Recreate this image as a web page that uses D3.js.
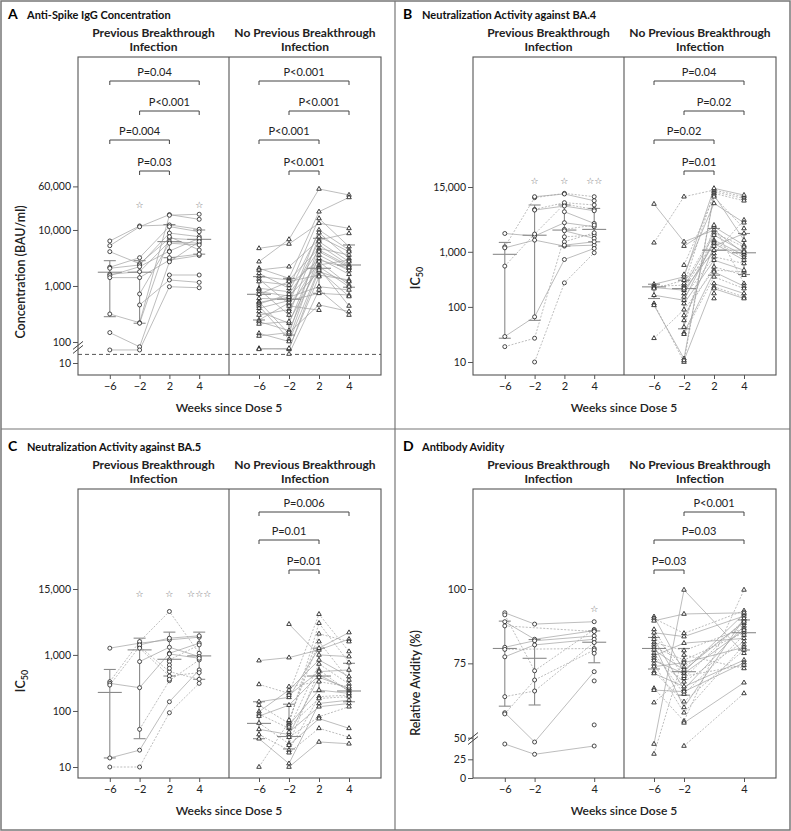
<!DOCTYPE html>
<html><head><meta charset="utf-8">
<script src="https://cdn.jsdelivr.net/npm/d3@7"></script>
<style>body{margin:0;background:#fff} svg{display:block;font-family:Lato,"Open Sans",sans-serif}</style>
</head><body><svg id="c" width="791" height="831"></svg>
<script>
// ---------------- DATA ----------------
const weeks = [-6, -2, 2, 4];
const groupNames = ["Previous Breakthrough", "No Previous Breakthrough"];
const xTickLabels = ["\u22126", "\u22122", "2", "4"];

// Panel A: anti-spike IgG (BAU/ml); rows = participants, columns = weeks -6,-2,2,4
const A_prev = [
 [6360,11800,12300,10300],[5240,11400,18800,15500],[4100,2500,7100,6600],[2160,3200,11500,9300],
 [2070,2370,8800,7600],[1620,1800,6200,5800],[1530,2210,4200,7100],[1410,1410,2900,3500],
 [316,221,18300,19100],[147,82,2700,6200],[72,72,970,930],[null,720,5800,5400],
 [null,458,1280,1160],[null,216,7600,4400],[null,null,3200,3700],[null,null,1570,1570],[null,null,4100,null]
];
const A_none = [
 [4700,5630,13200,10700],[2720,6800,54000,42200],[2070,1370,21200,38200],[1930,2210,6630,8700],
 [1680,910,16100,5040],[1470,1280,4700,3570],[1330,477,10000,4400],[1200,1040,2910,2070],
 [910,790,8950,3120],[870,303,7600,4100],[790,660,2370,2910],[710,1200,1570,1280],
 [600,580,6200,2720],[525,139,5400,2370],[510,630,970,850],[477,710,4400,2280],
 [440,112,3570,1880],[400,550,740,690],[350,216,4100,2150],[303,380,3120,1620],
 [247,500,1800,1200],[231,160,2720,1040],[210,231,2210,970],[143,102,2070,440],
 [128,147,460,350],[77,74,1930,650],[74,77,1470,null],[null,61,850,303],
 [null,440,370,null],[null,350,null,null]
];
const A_prev_med = [1760,1760,6200,6800], A_prev_q1 = [283,216,3200,3700], A_prev_q3 = [2830,2830,12500,10000];
const A_none_med = [710,580,2070,2370],  A_none_q1 = [247,133,740,950],   A_none_q3 = [1470,1370,7100,5400];
const A_stars = [{week:-2, n:1}, {week:4, n:1}];
const A_brackets = [
 {side:0, from:-6, to:4, label:"P=0.04", level:0}, {side:0, from:-2, to:4, label:"P<0.001", level:1},
 {side:0, from:-6, to:2, label:"P=0.004", level:2}, {side:0, from:-2, to:2, label:"P=0.03", level:3},
 {side:1, from:-6, to:4, label:"P<0.001", level:0}, {side:1, from:-2, to:4, label:"P<0.001", level:1},
 {side:1, from:-6, to:2, label:"P<0.001", level:2}, {side:1, from:-2, to:2, label:"P<0.001", level:3}
];
const A_yTicks = [10, 100, 1000, 10000, 60000];
const A_lod = 60;

// Panel B: neutralization BA.4 (IC50)
const B_prev = [
 [2150,1930,3370,2850],[1230,9600,11500,10000],[1180,1630,1270,1320],[550,2100,7350,5880],
 [29,66,725,1150],[19,27,1870,2010],[null,10000,11200,8450],[null,5880,7800,7070],
 [null,5720,6770,5560],[null,10,273,960],[null,null,5340,3270],[null,null,2550,3050],
 [null,null,2410,1750],[null,null,1520,2210],[null,null,1320,1520]
];
const B_none = [
 [7370,1520,2480,930],[1460,10000,13200,10000],[258,351,14200,10700],[237,248,12300,9300],
 [225,201,1070,1070],[215,305,930,3770],[163,132,1630,870],[115,10,11500,8450],
 [107,11.5,10700,1630],[27,89,465,433],[null,1270,2850,1320],[null,573,10000,2650],
 [null,387,7570,3370],[null,265,2210,1230],[null,231,2010,1000],[null,215,1520,790],
 [null,175,1420,705],[null,152,810,614],[null,115,705,465],[null,70,533,377],
 [null,57,1270,2150],[null,43,3050,265],[null,34,433,237],[null,32,351,215],
 [null,10.7,265,175],[null,null,231,152],[null,null,215,142],[null,null,175,null],[null,null,142,null]
];
const B_prev_med = [900,2000,2480,2550], B_prev_q1 = [27,57,1270,1520], B_prev_q3 = [1480,7070,7070,6130];
const B_none_med = [231,215,1070,960],   B_none_q1 = [142,40,377,387],   B_none_q3 = [258,305,2650,2150];
const B_stars = [{week:-2, n:1}, {week:2, n:1}, {week:4, n:2}];
const B_brackets = [
 {side:1, from:-6, to:4, label:"P=0.04", level:0}, {side:1, from:-2, to:4, label:"P=0.02", level:1},
 {side:1, from:-6, to:2, label:"P=0.02", level:2}, {side:1, from:-2, to:2, label:"P=0.01", level:3}
];
const B_yTicks = [10, 100, 1000, 15000];

// Panel C: neutralization BA.5 (IC50)
const C_prev = [
 [1320,1620,1860,2070],[333,1730,5960,1070],[311,260,1070,1620],[290,1410,503,367],
 [14.5,20,146,539],[10,10,93,311],[null,1510,1990,2190],[null,1320,420,483],
 [null,760,1370,933],[null,47,347,814],[null,null,1040,871],[null,null,814,1510],
 [null,null,760,null],[null,null,660,null],[null,null,577,null],[null,null,367,null]
];
const C_none = [
 [791,896,1230,1910],[298,206,5340,1150],[146,175,1320,2510],[127,60,3690,729],
 [97,236,814,410],[88,49,690,303],[81,127,438,236],[61,26,539,220],
 [47,38,398,253],[38,20,180,192],[32,11.5,136,156],[10,64,2380,1730],
 [null,3540,1000,933],[null,271,333,271],[null,192,503,539],[null,68.5,1730,357],
 [null,56,236,206],[null,52,167,180],[null,42,119,136],[null,34,79,119],
 [null,24.5,73,49],[null,18,49,34],[null,10,28,26]
];
const C_prev_med = [214,1230,836,960], C_prev_q1 = [14.5,32,420,367], C_prev_q3 = [550,1990,2550,2550];
const C_none_med = [60,35,420,227],    C_none_q1 = [32,21,220,146],   C_none_q3 = [146,132,1320,709];
const C_stars = [{week:-2, n:1}, {week:2, n:1}, {week:4, n:3}];
const C_brackets = [
 {side:1, from:-6, to:4, label:"P=0.006", level:0}, {side:1, from:-6, to:2, label:"P=0.01", level:1},
 {side:1, from:-2, to:2, label:"P=0.01", level:2}
];
const C_yTicks = [10, 100, 1000, 15000];

// Panel D: relative avidity (%), no week-2 sample
const D_prev = [
 [92.0,88.2,null,89],[91.3,72.5,null,86.4],[89.0,83.1,null,86],[87.6,null,null,85.7],
 [80.4,82.6,null,84.2],[79.7,null,null,80],[77.2,81.2,null,83.1],[63.8,65.7,null,82],
 [58.4,45,null,72.2],[58.0,69.4,null,79.5],[42.7,30.8,null,40.4],[null,null,null,78.4],
 [null,null,null,69.1],[null,null,null,54.3]
];
const D_none = [
 [90.7,72.2,null,91.6],[90.1,85.1,null,92.7],[89.3,91.6,null,92],[86.4,70,null,89.6],
 [85.3,84,null,90.9],[84,73.7,null,88.5],[83.1,66.3,null,87.6],[82,79.3,null,86.8],
 [81.2,60.2,null,90.1],[80.4,76.1,null,85.3],[79.5,72.8,null,89],[78.4,64.7,null,84.5],
 [77.5,81.8,null,83.4],[76.7,68.8,null,82.3],[75.9,71.6,null,86.2],[74.8,58.4,null,81.2],
 [73.9,75.2,null,80.4],[72.2,62.1,null,79.5],[71.6,67.2,null,76.1],[66.6,55.6,null,99.7],
 [66,65.5,null,75.2],[61.8,70.7,null,74.4],[42.7,99.7,null,78.4],[31.2,77.8,null,73.3],
 [null,55,null,68.5],[null,40.4,null,64.9]
];
const D_prev_med = [80,76.7,null,82.1], D_prev_q1 = [60.6,61,null,75.2], D_prev_q3 = [89.2,83,null,85.9];
const D_none_med = [80,72.2,null,85.3], D_none_q1 = [73.1,64.3,null,79.5], D_none_q3 = [83.7,80,null,89.6];
const D_stars = [{week:4, n:1}];
const D_brackets = [
 {side:1, from:-2, to:4, label:"P<0.001", level:0}, {side:1, from:-6, to:4, label:"P=0.03", level:1},
 {side:1, from:-6, to:-2, label:"P=0.03", level:2}
];
const D_yTicks = [0, 25, 50, 75, 100];
const D_weeks = [-6, -2, 4];

// ---------------- DRAWING ----------------
const svg = d3.select("#c");
const ink = "#222", boxCol = "#555", lineCol = "#a0a0a0", sumCol = "#8a8a8a";

svg.append("rect").attr("x",1).attr("y",1).attr("width",789).attr("height",829)
  .attr("fill","none").attr("stroke","#777").attr("stroke-width",1.5);
svg.append("line").attr("x1",395).attr("x2",395).attr("y1",1).attr("y2",830).attr("stroke","#777").attr("stroke-width",1.2);
svg.append("line").attr("x1",1).attr("x2",790).attr("y1",429).attr("y2",429).attr("stroke","#777").attr("stroke-width",1.2);

function drawPanel(p) {
  const g = svg.append("g");
  const {x0, xm, x1, top, bottom} = p;
  g.append("text").attr("x", x0 - 70).attr("y", top - 38).attr("font-size", 14).attr("font-weight", 700)
    .attr("fill", "#000").text(p.letter);
  g.append("text").attr("x", x0 - 51).attr("y", top - 38).attr("font-size", 11).attr("font-weight", 700)
    .attr("fill", "#111").text(p.title);
  const xs = [
    d3.scalePoint().domain(weeks).range([x0 + 2, xm]).padding(1),
    d3.scalePoint().domain(weeks).range([xm, x1 - 2]).padding(1)
  ];
  groupNames.forEach((nm, i) => {
    const cx = i === 0 ? (x0 + xm) / 2 : (xm + x1) / 2;
    const t = g.append("text").attr("text-anchor", "middle").attr("font-size", 12).attr("font-weight", 700).attr("fill", ink);
    t.append("tspan").attr("x", cx).attr("y", top - 20).text(nm);
    t.append("tspan").attr("x", cx).attr("y", top - 6).text("Infection");
  });
  const y = p.y;
  g.append("rect").attr("x", x0).attr("y", top).attr("width", x1 - x0).attr("height", bottom - top)
    .attr("fill", "none").attr("stroke", boxCol).attr("stroke-width", 1.1);
  g.append("line").attr("x1", xm).attr("x2", xm).attr("y1", top).attr("y2", bottom).attr("stroke", boxCol).attr("stroke-width", 1.1);
  const ya = d3.axisLeft(y).tickValues(p.yTicks).tickSize(5).tickPadding(2).tickFormat(p.fmt);
  const yg = g.append("g").attr("transform", `translate(${x0},0)`).call(ya);
  yg.select(".domain").remove();
  yg.selectAll("line").attr("stroke", boxCol);
  yg.selectAll("text").attr("font-size", 10.5).attr("fill", ink).attr("font-family", "Lato, sans-serif");
  if (p.breakAt != null) {
    const by = y(p.breakAt);
    [-2, 2].forEach(d => {
      g.append("line").attr("x1", x0 - 5).attr("x2", x0 + 5).attr("y1", by + d + 4).attr("y2", by + d - 4)
        .attr("stroke", "#444").attr("stroke-width", 1);
    });
  }
  xs.forEach((xsc) => {
    const wk = p.weeks || weeks;
    const xa = d3.axisBottom(xsc).tickValues(wk).tickSize(4).tickPadding(3)
      .tickFormat(d => xTickLabels[weeks.indexOf(d)]);
    const xg = g.append("g").attr("transform", `translate(0,${bottom})`).call(xa);
    xg.select(".domain").remove();
    xg.selectAll("line").attr("stroke", boxCol);
    xg.selectAll("text").attr("font-size", 11).attr("fill", ink).attr("font-family", "Lato, sans-serif");
  });
  g.append("text").attr("x", xm).attr("y", bottom + 37).attr("text-anchor", "middle")
    .attr("font-size", 12).attr("font-weight", 600).attr("fill", ink).text("Weeks since Dose 5");
  const yl = g.append("text").attr("transform", `translate(${x0 - 53},${p.ylabelY}) rotate(-90)`)
    .attr("text-anchor", "middle").attr("font-size", 12.5).attr("font-weight", 600).attr("fill", ink);
  if (p.ylabel === "IC50") {
    yl.append("tspan").text("IC");
    yl.append("tspan").attr("font-size", 9).attr("dy", 3).text("50");
  } else yl.text(p.ylabel);
  if (p.lod != null) {
    g.append("line").attr("x1", x0).attr("x2", x1).attr("y1", y(p.lod)).attr("y2", y(p.lod))
      .attr("stroke", "#555").attr("stroke-width", 1).attr("stroke-dasharray", "4,3");
  }
  p.groups.forEach((grp, gi) => {
    const xsc = xs[gi];
    const gg = g.append("g");
    const line = d3.line().x(d => xsc(d[0])).y(d => y(d[1]));
    grp.rows.forEach((r, ri) => {
      const pts = weeks.map((w, k) => [w, r[k]]).filter(d => d[1] != null);
      gg.append("path").attr("d", line(pts)).attr("fill", "none").attr("stroke", lineCol)
        .attr("stroke-width", 0.7)
        .attr("stroke-dasharray", p.dashed && ri % 2 === 1 ? "2,1.5" : null);
    });
    weeks.forEach((w, k) => {
      if (grp.med[k] == null) return;
      const cx = xsc(w);
      gg.append("line").attr("x1", cx).attr("x2", cx).attr("y1", y(grp.q1[k])).attr("y2", y(grp.q3[k]))
        .attr("stroke", sumCol).attr("stroke-width", 1.1);
      [grp.q1[k], grp.q3[k]].forEach(v => gg.append("line").attr("x1", cx - 6).attr("x2", cx + 6)
        .attr("y1", y(v)).attr("y2", y(v)).attr("stroke", sumCol).attr("stroke-width", 1.1));
      gg.append("line").attr("x1", cx - 12).attr("x2", cx + 12).attr("y1", y(grp.med[k])).attr("y2", y(grp.med[k]))
        .attr("stroke", sumCol).attr("stroke-width", 1.1);
    });
    grp.rows.forEach(r => {
      weeks.forEach((w, k) => {
        if (r[k] == null) return;
        if (gi === 0) {
          gg.append("circle").attr("cx", xsc(w)).attr("cy", y(r[k])).attr("r", 2)
            .attr("fill", "#fff").attr("stroke", "#2a2a2a").attr("stroke-width", 0.85);
        } else {
          gg.append("path").attr("d", d3.symbol(d3.symbolTriangle, 9)())
            .attr("transform", `translate(${xsc(w)},${y(r[k])})`)
            .attr("fill", "#fff").attr("stroke", "#2a2a2a").attr("stroke-width", 0.9);
        }
      });
    });
  });
  p.stars.forEach(s => {
    g.append("text").attr("x", xs[0](s.week)).attr("y", y(p.starY) + 3.5).attr("text-anchor", "middle")
      .attr("font-size", 9).attr("fill", "#666").attr("font-family", "DejaVu Sans")
      .text("\u2606".repeat(s.n));
  });
  p.brackets.forEach(b => {
    const xsc = xs[b.side];
    const bx0 = xsc(b.from), bx1 = xsc(b.to), by = top + p.levels[b.level];
    g.append("path").attr("d", `M${bx0},${by + 4}V${by}H${bx1}V${by + 4}`)
      .attr("fill", "none").attr("stroke", "#444").attr("stroke-width", 1);
    g.append("text").attr("x", (bx0 + bx1) / 2).attr("y", by - 5).attr("text-anchor", "middle")
      .attr("font-size", 11).attr("fill", ink).text(b.label);
  });
}

const fmtC = d3.format(",");
drawPanel({
  letter: "A", title: "Anti-Spike IgG Concentration", x0: 78, xm: 229, x1: 381, top: 57, bottom: 375,
  y: d3.scaleLog().domain([10, A_lod, 60000]).range([363, 354.4, 186.4]),
  yTicks: A_yTicks, fmt: fmtC, breakAt: 80, lod: A_lod, ylabel: "Concentration (BAU/ml)", ylabelY: 272,
  groups: [{rows: A_prev, med: A_prev_med, q1: A_prev_q1, q3: A_prev_q3},
           {rows: A_none, med: A_none_med, q1: A_none_q1, q3: A_none_q3}],
  stars: A_stars, starY: 28000, brackets: A_brackets, levels: [24, 54, 83, 114], dashed: false
});
drawPanel({
  letter: "B", title: "Neutralization Activity against BA.4", x0: 473, xm: 624, x1: 776, top: 57, bottom: 375,
  y: d3.scaleLog().domain([10, 15000]).range([362, 187]),
  yTicks: B_yTicks, fmt: fmtC, ylabel: "IC50", ylabelY: 278,
  groups: [{rows: B_prev, med: B_prev_med, q1: B_prev_q1, q3: B_prev_q3},
           {rows: B_none, med: B_none_med, q1: B_none_q1, q3: B_none_q3}],
  stars: B_stars, starY: 20000, brackets: B_brackets, levels: [24, 54, 83, 114], dashed: true
});
drawPanel({
  letter: "C", title: "Neutralization Activity against BA.5", x0: 78, xm: 229, x1: 381, top: 489, bottom: 778,
  y: d3.scaleLog().domain([10, 15000]).range([767, 589]),
  yTicks: C_yTicks, fmt: fmtC, ylabel: "IC50", ylabelY: 681,
  groups: [{rows: C_prev, med: C_prev_med, q1: C_prev_q1, q3: C_prev_q3},
           {rows: C_none, med: C_none_med, q1: C_none_q1, q3: C_none_q3}],
  stars: C_stars, starY: 12500, brackets: C_brackets, levels: [23, 51, 81], dashed: true
});
drawPanel({
  letter: "D", title: "Antibody Avidity", x0: 473, xm: 624, x1: 776, top: 489, bottom: 778,
  y: d3.scaleLinear().domain([0, 25, 50, 100]).range([778, 759.3, 737.7, 589]),
  yTicks: D_yTicks, fmt: d3.format("d"), breakAt: 49, ylabel: "Relative Avidity (%)", ylabelY: 683,
  weeks: D_weeks,
  groups: [{rows: D_prev, med: D_prev_med, q1: D_prev_q1, q3: D_prev_q3},
           {rows: D_none, med: D_none_med, q1: D_none_q1, q3: D_none_q3}],
  stars: D_stars, starY: 93.3, brackets: D_brackets, levels: [23, 51, 81], dashed: true
});
</script></body></html>
